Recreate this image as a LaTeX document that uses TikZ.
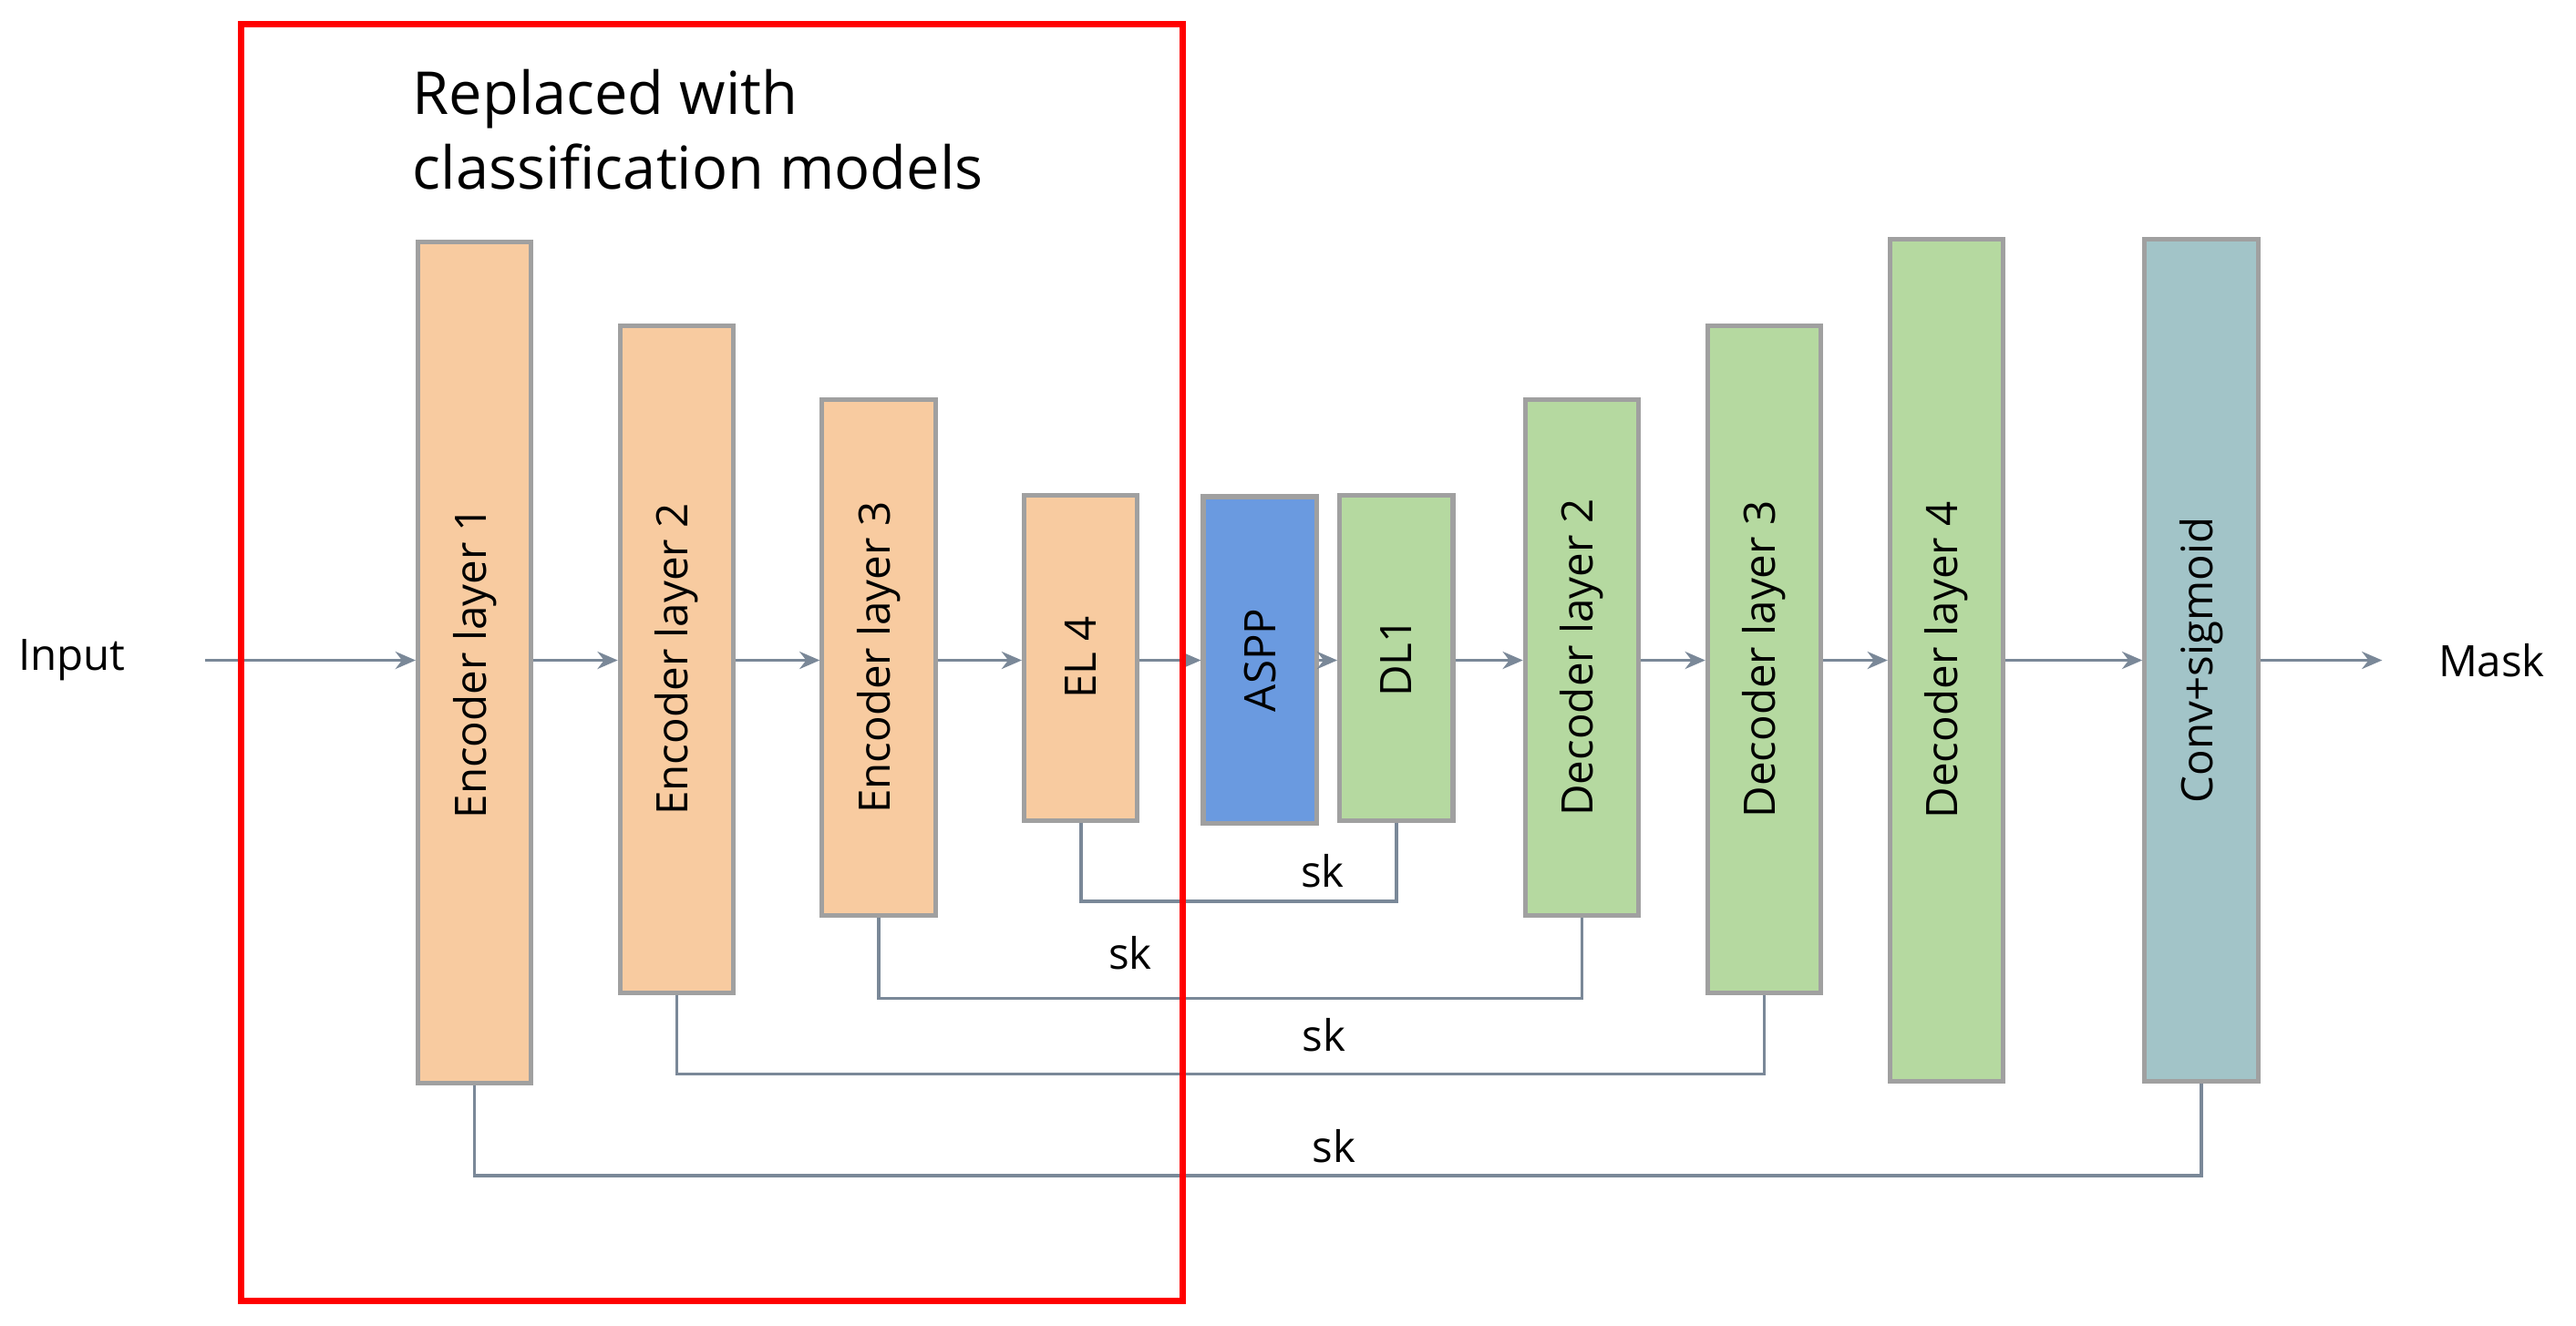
\documentclass[tikz,border=0pt]{standalone}
\usepackage{fontspec}
\setmainfont{Open Sans}
\usetikzlibrary{arrows.meta}
\definecolor{enc}{HTML}{F8CBA0}
\definecolor{aspp}{HTML}{6A9AE0}
\definecolor{dec}{HTML}{B5D9A0}
\definecolor{cs}{HTML}{A2C4C8}
\definecolor{bd}{HTML}{A0A0A0}
\definecolor{ln}{HTML}{7A8898}
\begin{document}
\begin{tikzpicture}[x=0.2mm,y=-0.2mm,
  blk/.style={draw=bd,line width=1.6pt,minimum width=13.8mm,inner sep=0pt},
  lbl/.style={rotate=90,font=\fontsize{15}{18}\selectfont},
  ar/.style={draw=ln,line width=1.1pt,-{Stealth[length=7pt,width=6pt]}},
  sk/.style={draw=ln,line width=1.1pt},
  txt/.style={font=\fontsize{15}{18}\selectfont}]
\useasboundingbox (0,0) rectangle (1568,807);
\newcommand{\blkat}[6]{\node[blk,fill=#6,minimum height=#4*0.2mm,anchor=north west] (#1) at (#2,#3) {}; \node[lbl] at (#1.center) {#5};}
\blkat{e1}{253}{146}{512}{Encoder layer 1}{enc}
\blkat{e2}{376}{197}{406}{Encoder layer 2}{enc}
\blkat{e3}{499}{242}{314}{Encoder layer 3}{enc}
\blkat{e4}{622}{300}{198}{EL 4}{enc}
\blkat{as}{731}{301}{199}{ASPP}{aspp}
\blkat{d1}{814}{300}{198}{DL1}{dec}
\blkat{d2}{927}{242}{314}{Decoder layer 2}{dec}
\blkat{d3}{1038}{197}{406}{Decoder layer 3}{dec}
\blkat{d4}{1149}{144}{513}{Decoder layer 4}{dec}
\blkat{cv}{1304}{144}{513}{Conv+sigmoid}{cs}
\node[txt,anchor=west] (in) at (5,402) {Input};
\node[txt,anchor=west] (mask) at (1478,402) {Mask};
\coordinate (ins) at (125,402);
\coordinate (me) at (1450,402);
\draw[ar] (ins) -- (e1.west|-ins);
\draw[ar] (e1.east|-ins) -- (e2.west|-ins);
\draw[ar] (e2.east|-ins) -- (e3.west|-ins);
\draw[ar] (e3.east|-ins) -- (e4.west|-ins);
\draw[ar] (e4.east|-ins) -- (as.west|-ins);
\draw[ar] (as.east|-ins) -- (d1.west|-ins);
\draw[ar] (d1.east|-ins) -- (d2.west|-ins);
\draw[ar] (d2.east|-ins) -- (d3.west|-ins);
\draw[ar] (d3.east|-ins) -- (d4.west|-ins);
\draw[ar] (d4.east|-ins) -- (cv.west|-ins);
\draw[ar] (cv.east|-ins) -- (me);
\draw[sk] (e4.south) -- ++(0,48) -| (d1.south);
\draw[sk] (e3.south) -- ++(0,49) -| (d2.south);
\draw[sk] (e2.south) -- ++(0,48) -| (d3.south);
\draw[sk] (e1.south) -- ++(0,55) -| (cv.south);
\node[txt] (s1) at (805,530) {sk};
\node[txt] (s2) at (688,580) {sk};
\node[txt] (s3) at (806,630) {sk};
\node[txt] (s4) at (812,698) {sk};
\node[draw=red,line width=2.2pt,minimum width=114.6mm,minimum height=155.4mm,anchor=north west] (rb) at (145,13) {};
\node[anchor=north west,align=left,font=\fontsize{20.5}{26}\selectfont] (t) at (245,36) {Replaced with\\classification models};
\end{tikzpicture}
\end{document}
